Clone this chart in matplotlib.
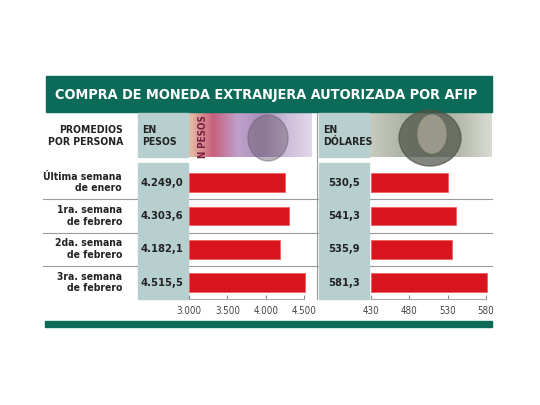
import matplotlib
matplotlib.use("Agg")
import matplotlib.pyplot as plt
import numpy as np
from matplotlib import font_manager as fm
from matplotlib.patches import Rectangle, Ellipse

# chart data
weeks = ["Última semana\nde enero", "1ra. semana\nde febrero",
         "2da. semana\nde febrero", "3ra. semana\nde febrero"]
pesos = [4249.0, 4303.6, 4182.1, 4515.5]
dolares = [530.5, 541.3, 535.9, 581.3]
pesos_labels = ["4.249,0", "4.303,6", "4.182,1", "4.515,5"]
dolares_labels = ["530,5", "541,3", "535,9", "581,3"]
pesos_ticks = [3000, 3500, 4000, 4500]
pesos_ticklabels = ["3.000", "3.500", "4.000", "4.500"]
dolares_ticks = [430, 480, 530, 580]
dolares_ticklabels = ["430", "480", "530", "580"]

title = "COMPRA DE MONEDA EXTRANJERA AUTORIZADA POR AFIP"

GREEN = "#0c6b58"
SHADE = "#b8cfd0"
RED = "#d8141e"
TEXT = "#222222"


def find_condensed(bold):
    # look for any installed condensed / narrow sans face
    for f in fm.fontManager.ttflist:
        tag = (f.fname + " " + str(f.stretch)).lower()
        if not ("condensed" in tag or "narrow" in tag):
            continue
        if "italic" in f.fname.lower() or f.style != "normal":
            continue
        is_bold = f.weight in ("bold", 700) or "bold" in f.fname.lower()
        if "semi" in f.fname.lower() or "extra" in f.fname.lower():
            continue
        if is_bold == bold:
            return f.fname
    return None


bold_path = find_condensed(True)
reg_path = find_condensed(False)


def fp(size, bold=True):
    path = bold_path if bold else reg_path
    if path:
        return fm.FontProperties(fname=path, size=size)
    return fm.FontProperties(family="Roboto", size=size,
                             weight="bold" if bold else "normal")


W, H = 540, 405
fig = plt.figure(figsize=(W / 100, H / 100), dpi=100)
bg = fig.add_axes([0, 0, 1, 1])
bg.set_xlim(0, W)
bg.set_ylim(H, 0)
bg.axis("off")


def px_axes(x0, x1, y0, y1):
    # axes placed by pixel box (top-left origin)
    return fig.add_axes([x0 / W, 1 - y1 / H, (x1 - x0) / W, (y1 - y0) / H])


# title band and bottom band
bg.add_patch(Rectangle((46, 76), 446, 36, color=GREEN))
t = bg.text(266, 95, title, color="white", fontproperties=fp(12.5),
            ha="center", va="center")
renderer = fig.canvas.get_renderer()
tw = t.get_window_extent(renderer).width
if tw > 424:
    t.set_fontproperties(fp(12.5 * 424 / tw))
bg.add_patch(Rectangle((45, 321), 447, 6, color=GREEN))

# header
bg.text(123, 136, "PROMEDIOS\nPOR PERSONA", ha="right", va="center",
        fontproperties=fp(7.5), color=TEXT, linespacing=1.3)
bg.add_patch(Rectangle((138, 113), 50, 44, color=SHADE))
bg.add_patch(Rectangle((319, 113), 50, 44, color=SHADE))
bg.text(142, 136, "EN\nPESOS", ha="left", va="center", fontproperties=fp(7.5),
        color=TEXT, linespacing=1.3)
bg.text(323, 136, "EN\nDÓLARES", ha="left", va="center",
        fontproperties=fp(7.5), color=TEXT, linespacing=1.3)

# banknote stand-ins
grad = np.linspace(0, 1, 100)[None, :]
peso_cmap = matplotlib.colors.LinearSegmentedColormap.from_list(
    "peso", ["#e8c0a8", "#c8607c", "#c0a0cc", "#a890b8", "#cdbddb", "#e2d6e8"])
bg.imshow(grad, cmap=peso_cmap, extent=(188, 312, 157, 113), aspect="auto")
bg.add_patch(Ellipse((268, 138), 40, 46, color="#6a5a6e", alpha=0.45))
bg.text(203, 137, "N PESOS", rotation=90, ha="center", va="center",
        fontproperties=fp(7), color="#7a2040")
dollar_cmap = matplotlib.colors.LinearSegmentedColormap.from_list(
    "dollar", ["#c8ccc0", "#b0b6a8", "#9ea493", "#b7bcae", "#d8dbd2"])
bg.imshow(grad, cmap=dollar_cmap, extent=(369, 492, 157, 113), aspect="auto")
bg.add_patch(Ellipse((430, 138), 62, 56, color="#4c5246", alpha=0.7))
bg.add_patch(Ellipse((432, 134), 28, 38, color="#9a9888"))

# row separators and column shading
row_top, row_h = 166, 33.3
for i in range(1, len(weeks)):
    y = row_top + i * row_h
    bg.plot([43, 492], [y, y], color="#9a9a9a", lw=0.8)
bg.add_patch(Rectangle((138, 163), 50, 136, color=SHADE, zorder=3))
bg.add_patch(Rectangle((319, 163), 50, 136, color=SHADE, zorder=3))
bg.plot([317, 317], [113, 299], color="#9a9a9a", lw=0.8)

for i, (lab, pv, dv) in enumerate(zip(weeks, pesos_labels, dolares_labels)):
    yc = row_top + (i + 0.5) * row_h
    bg.text(122, yc, lab, ha="right", va="center", fontproperties=fp(7.5),
            color=TEXT, linespacing=1.2)
    bg.text(162, yc, pv, ha="center", va="center", fontproperties=fp(8),
            color=TEXT, zorder=4)
    bg.text(344, yc, dv, ha="center", va="center", fontproperties=fp(8),
            color=TEXT, zorder=4)


def bar_panel(ax, values, lo, hi, ticks, ticklabels):
    ax.barh(range(len(values)), [v - lo for v in values], left=lo,
            height=0.56, color=RED, edgecolor="#f06060", lw=0.6,
            clip_on=False)
    ax.set_xlim(lo, hi)
    ax.set_ylim(len(values) - 0.5, -0.5)
    ax.set_yticks([])
    ax.set_xticks(ticks)
    ax.set_xticklabels(ticklabels, fontproperties=fp(7, bold=False))
    ax.tick_params(axis="x", direction="in", length=3, color="#888888",
                   labelcolor="#444444", pad=5)
    for side in ("top", "left", "right"):
        ax.spines[side].set_visible(False)
    ax.spines["bottom"].set_color("#aaaaaa")
    ax.spines["bottom"].set_linewidth(0.8)
    ax.patch.set_alpha(0)


ax1 = px_axes(189, 304, row_top, row_top + 4 * row_h)
bar_panel(ax1, pesos, 3000, 4500, pesos_ticks, pesos_ticklabels)
ax2 = px_axes(371, 486, row_top, row_top + 4 * row_h)
bar_panel(ax2, dolares, 430, 580, dolares_ticks, dolares_ticklabels)

fig.savefig("out.png", dpi=100, facecolor="white")
